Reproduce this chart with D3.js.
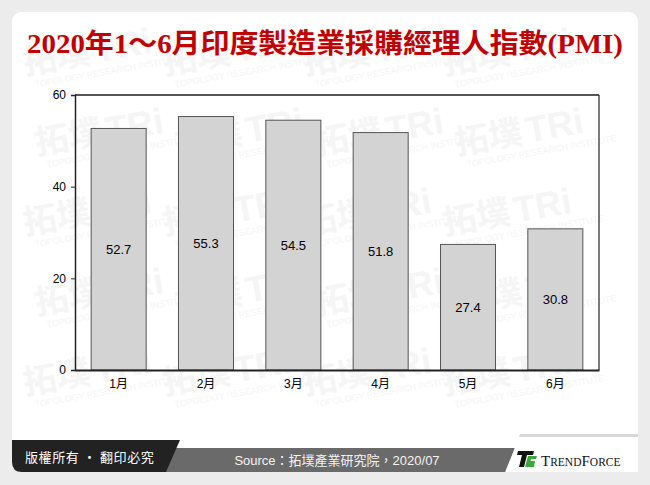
<!DOCTYPE html>
<html><head><meta charset="utf-8">
<script src="https://cdn.jsdelivr.net/npm/d3@7"></script>
<style>html,body{margin:0;padding:0;background:#ececec;}svg{display:block;}</style>
</head><body>
<script>
const categories = ["1月","2月","3月","4月","5月","6月"];
const values = [52.7, 55.3, 54.5, 51.8, 27.4, 30.8];
const yTicks = [0, 20, 40, 60];
const titleText = "2020年1～6月印度製造業採購經理人指數(PMI)";
const sourceText = "Source：拓墣產業研究院，2020/07";
const copyrightText = "版權所有 · 翻印必究";

const W = 650, H = 485;
const svg = d3.select("body").append("svg").attr("width", W).attr("height", H);
svg.append("rect").attr("width", W).attr("height", H).attr("fill", "#ececec");
// card
svg.append("rect").attr("x", 12).attr("y", 12).attr("width", 626).attr("height", 458).attr("rx", 9).attr("fill", "#ffffff");

// faint watermark, kept inside the card
const wm = svg.append("g").attr("fill", "#f5f5f5").attr("font-family", "Noto Sans CJK TC, sans-serif");
for (let r = 0; r < 5; r++) {
  for (let c = 0; c < 4; c++) {
    const wx = 25 + c * 140 + (r % 2) * 12, wy = 75 + r * 80;
    const g = wm.append("g").attr("transform", `translate(${wx},${wy}) rotate(-10)`);
    g.append("text").attr("font-size", 34).attr("font-weight", "bold").text("拓墣");
    g.append("text").attr("x", 72).attr("font-size", 36).attr("font-weight", "bold").attr("font-family", "Liberation Sans, sans-serif").text("TRi");
    g.append("text").attr("x", 8).attr("y", 14).attr("font-size", 9).attr("font-family", "Liberation Sans, sans-serif").text("TOPOLOGY RESEARCH INSTITUTE");
  }
}

// title
svg.append("text").attr("x", 325).attr("y", 53).attr("text-anchor", "middle")
  .attr("font-family", "Liberation Serif, Noto Sans CJK TC, serif").attr("font-weight", "bold")
  .attr("font-size", 27).attr("fill", "#c00000")
  .attr("textLength", 596).attr("lengthAdjust", "spacingAndGlyphs")
  .text(titleText);

// chart
const pL = 75, pR = 599, pT = 95, pB = 370;
const x = d3.scaleBand().domain(categories).range([pL, pR]).paddingInner(0.37).paddingOuter(0.185);
const y = d3.scaleLinear().domain([0, 60]).range([pB, pT]);

const chart = svg.append("g");
chart.selectAll("rect.bar").data(values).enter().append("rect")
  .attr("class", "bar")
  .attr("x", (d, i) => x(categories[i]))
  .attr("y", d => y(d))
  .attr("width", x.bandwidth())
  .attr("height", d => y(0) - y(d))
  .attr("fill", "#d3d3d3").attr("stroke", "#555").attr("stroke-width", 1);

chart.selectAll("text.val").data(values).enter().append("text")
  .attr("x", (d, i) => x(categories[i]) + x.bandwidth() / 2)
  .attr("y", d => (y(d) + y(0)) / 2 + 5)
  .attr("text-anchor", "middle").attr("font-family", "Liberation Sans, Arial, sans-serif")
  .attr("font-size", 13).attr("fill", "#000").text(d => d.toFixed(1));

// frame
chart.append("line").attr("x1", pL).attr("x2", pR).attr("y1", pT).attr("y2", pT).attr("stroke", "#555").attr("stroke-width", 2);
chart.append("line").attr("x1", pR).attr("x2", pR).attr("y1", pT).attr("y2", pB).attr("stroke", "#222").attr("stroke-width", 1.2);

const yAxis = chart.append("g").attr("transform", `translate(${pL},0)`)
  .call(d3.axisLeft(y).tickValues(yTicks).tickSize(4).tickPadding(5));
yAxis.select(".domain").attr("stroke", "#222").attr("stroke-width", 1.5);
yAxis.selectAll(".tick line").attr("stroke", "#222");
yAxis.selectAll("text").attr("font-family", "Liberation Sans, Arial, sans-serif").attr("font-size", 12).attr("fill", "#000");

const xAxis = chart.append("g").attr("transform", `translate(0,${pB})`)
  .call(d3.axisBottom(x).tickSize(0).tickPadding(9));
xAxis.select(".domain").attr("stroke", "#222").attr("stroke-width", 2);
xAxis.selectAll("text").attr("font-family", "Liberation Sans, Noto Sans CJK TC, sans-serif").attr("font-size", 12).attr("fill", "#000");

// footer
const f = svg.append("g");
f.append("rect").attr("x", 0).attr("y", 472).attr("width", W).attr("height", 13).attr("fill", "#ececec");
f.append("path").attr("d", "M160,448 L515,448 L505,472 L150,472 Z").attr("fill", "#6a6a6a");
f.append("path").attr("d", "M12,440 L180,440 L166,472 L22,472 Q12,472 12,462 Z").attr("fill", "#222");
f.append("path").attr("d", "M520,434 L638,434 L638,472 L506,472 Z").attr("fill", "#ffffff");
f.append("path").attr("d", "M520,434 L638,434 L638,437 L519,437 Z").attr("fill", "#d8d8d8");
f.append("text").attr("x", 25).attr("y", 462).attr("font-family", "Noto Sans CJK TC, sans-serif")
  .attr("font-size", 13).attr("fill", "#fff").attr("letter-spacing", 0.6).text(copyrightText);
f.append("text").attr("x", 337).attr("y", 465).attr("text-anchor", "middle").attr("font-family", "Liberation Sans, Noto Sans CJK TC, sans-serif")
  .attr("font-size", 13).attr("fill", "#f4f4f4").text(sourceText);
// logo
f.append("path").attr("d", "M518,451 L534,451 L533,455 L527,455 L524,467 L519,467 L522,455 L517,455 Z").attr("fill", "#111");
f.append("path").attr("d", "M528,456 L537,456 L536,459 L531,459 L530.5,461 L535,461 L534,467 L525,467 Z").attr("fill", "#3aa83a");
f.append("text").attr("x", 541).attr("y", 466).attr("font-family", "Liberation Serif, serif")
  .attr("font-size", 15).attr("fill", "#111")
  .html('T<tspan font-size="11.5">REND</tspan>F<tspan font-size="11.5">ORCE</tspan>');
</script>
</body></html>
